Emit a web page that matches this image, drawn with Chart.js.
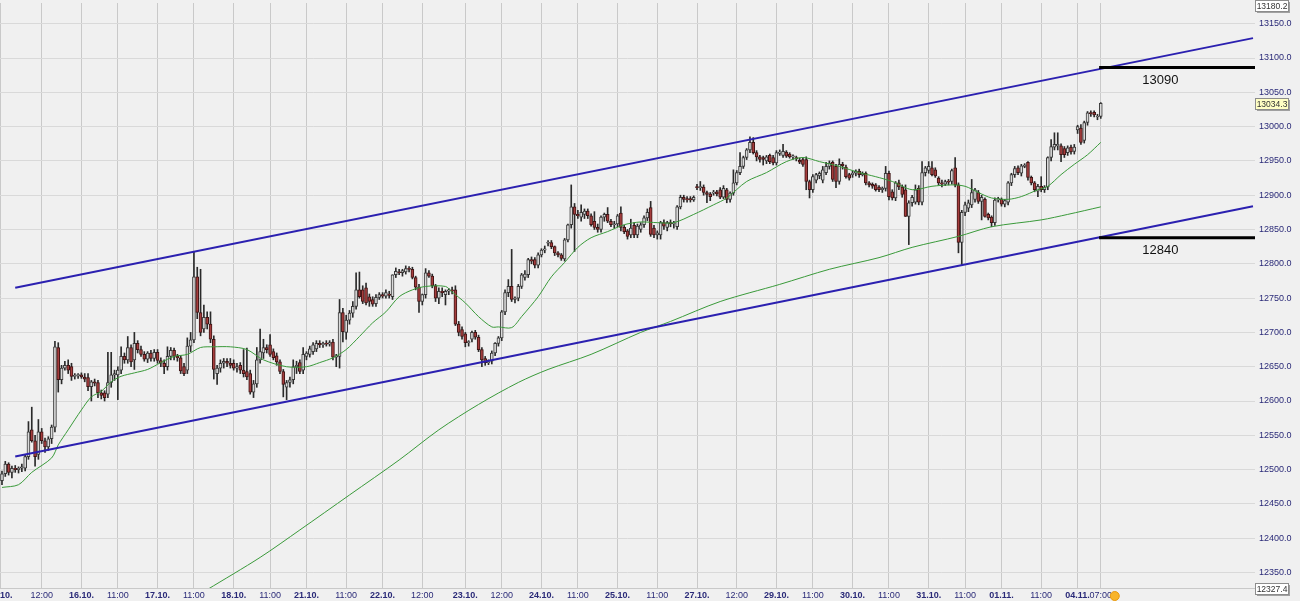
<!DOCTYPE html>
<html lang="en">
<head>
    <meta charset="UTF-8">
    <title>Hourly chart with channel</title>
    <script src="https://cdn.jsdelivr.net/npm/chart.js@4"></script>
    <style>
        html, body { margin: 0; padding: 0; background: #f0f0f0; }
        canvas { display: block; }
    </style>
</head>
<body>

<canvas id="priceChart" width="1300" height="601"></canvas>

<script>
    // hourly candles, 15.10. - 04.11.
    const opens = [
        12484,12494,12508,12496,12502,12500,12502,12502,12519,12558,
        12542,12522,12555,12542,12533,12545,12562,12678,12631,12648,
        12652,12650,12636,12637,12638,12635,12634,12621,12628,12627,
        12612,12612,12610,12627,12638,12638,12645,12665,12660,12678,
        12660,12684,12675,12668,12661,12670,12662,12671,12659,12655,
        12650,12665,12674,12665,12663,12650,12645,12680,12689,12781,
        12729,12705,12722,12712,12690,12640,12648,12655,12658,
        12655,12655,12648,12652,12645,12643,12640,12613,12625,12660,
        12670,12678,12682,12672,12666,12657,12643,12620,12627,12631,
        12650,12656,12645,12665,12668,12672,12676,12684,12682,12684,
        12683,12686,12664,12665,12729,12700,12718,12728,12738,12762,
        12762,12765,12752,12748,12742,12751,12755,12753,12756,12752,
        12784,12788,12787,12788,12793,12792,12780,12766,12745,12755,
        12787,12782,12768,12750,12760,12755,12760,12762,
        12762,12712,12704,12698,12685,12690,12700,12693,12675,12662,
        12656,12658,12670,12684,12692,12730,12758,12767,12748,12750,
        12767,12780,12784,12806,12806,12798,12813,12820,12830,12831,
        12825,12816,12813,12807,12835,12857,12883,12872,12868,12872,
        12877,12870,12862,12853,12850,12868,12872,12862,12857,12858,
        12874,12853,12848,12842,12856,12842,12850,12857,12867,12882,
        12852,12842,12842,12860,12853,12860,12858,
        12854,12883,12897,12895,12895,12893,12912,12911,12912,12904,
        12902,12903,12905,12908,12897,12908,12894,12903,12918,12933,
        12942,12955,12966,12977,12962,12956,12955,12950,12958,12955,
        12947,12961,12958,12963,12960,12956,12955,12951,12952,12952,
        12920,12908,12922,12928,12922,12933,12942,12948,12942,12920,
        12945,12941,12930,12930,12932,12935,12930,12932,12918,12916,
        12915,12912,12908,12910,12932,12905,12896,
        12918,12912,12908,12869,12889,12890,12910,12890,12933,12936,
        12940,12937,12925,12918,12916,12920,12920,12940,12915,12831,
        12875,12881,12886,12894,12904,12891,12894,12872,12868,12860,
        12893,12894,12887,12890,12918,12930,12940,12932,12942,12948,
        12926,12918,12906,12913,12908,12912,12955,12970,12972,12972,
        12968,12962,12970,12964,12995,12998,12980,13006,13020,13021,
        13014,13015
    ];
    const highs = [
        12498,12512,12510,12505,12506,12504,12508,12521,12570,12591,
        12550,12573,12560,12546,12548,12565,12687,12685,12652,12658,
        12660,12655,12640,12640,12641,12640,12640,12630,12632,12630,
        12616,12615,12671,12671,12645,12650,12679,12670,12694,12682,
        12700,12688,12680,12672,12672,12674,12675,12675,12663,12660,
        12679,12678,12677,12668,12666,12655,12692,12700,12818,12795,
        12792,12740,12730,12730,12695,12652,12660,12662,12662,
        12662,12660,12655,12656,12675,12677,12645,12630,12678,12705,
        12690,12682,12697,12676,12670,12660,12646,12630,12635,12660,
        12658,12660,12678,12672,12680,12685,12688,12688,12686,12688,
        12688,12690,12668,12748,12735,12725,12732,12745,12787,12788,
        12768,12772,12756,12752,12755,12758,12758,12762,12760,12784,
        12794,12792,12792,12797,12796,12795,12782,12770,12756,12793,
        12790,12785,12770,12765,12765,12762,12764,12766,
        12768,12716,12708,12700,12688,12702,12703,12696,12678,12665,
        12660,12673,12685,12694,12732,12762,12777,12821,12752,12770,
        12786,12790,12808,12810,12809,12816,12822,12826,12834,12834,
        12826,12818,12815,12837,12858,12915,12888,12878,12886,12880,
        12880,12873,12876,12858,12870,12874,12882,12865,12862,12872,
        12883,12856,12850,12865,12860,12858,12860,12870,12880,12891,
        12856,12848,12862,12864,12862,12864,12862,
        12885,12900,12900,12898,12898,12899,12916,12920,12915,12906,
        12904,12907,12907,12911,12914,12910,12905,12937,12936,12962,
        12957,12968,12985,12984,12965,12958,12957,12958,12960,12958,
        12965,12966,12974,12965,12962,12959,12957,12954,12954,12956,
        12922,12930,12932,12934,12942,12948,12950,12950,12945,12953,
        12948,12944,12932,12935,12937,12938,12934,12934,12920,12918,
        12917,12914,12912,12942,12935,12908,12920,
        12922,12915,12915,12892,12900,12915,12914,12949,12942,12949,
        12949,12940,12927,12922,12922,12923,12938,12955,12918,12878,
        12890,12893,12923,12910,12907,12900,12896,12874,12870,12896,
        12897,12896,12894,12920,12932,12942,12943,12945,12946,12949,
        12928,12920,12916,12927,12914,12956,12981,12991,12991,12975,
        12971,12972,12973,12974,13002,13003,13008,13022,13023,13023,
        13018,13035
    ];
    const lows = [
        12478,12490,12492,12488,12496,12495,12497,12498,12515,12540,
        12505,12515,12538,12525,12528,12538,12555,12613,12625,12645,
        12640,12630,12632,12633,12633,12628,12615,12600,12622,12605,
        12603,12600,12605,12620,12630,12602,12640,12655,12655,12650,
        12646,12670,12665,12658,12656,12658,12658,12655,12650,12640,
        12645,12660,12660,12658,12640,12637,12640,12672,12685,12720,
        12695,12700,12705,12685,12632,12624,12642,12648,12650,
        12648,12645,12642,12640,12635,12631,12610,12605,12620,12655,
        12662,12670,12665,12660,12652,12640,12606,12602,12620,12625,
        12640,12640,12640,12660,12664,12668,12672,12678,12678,12680,
        12680,12660,12650,12648,12686,12690,12712,12722,12734,12750,
        12742,12740,12738,12738,12738,12748,12750,12750,12750,12748,
        12780,12784,12782,12785,12788,12778,12762,12729,12740,12750,
        12780,12765,12745,12742,12752,12740,12755,12756,
        12710,12695,12690,12679,12680,12686,12690,12672,12650,12652,
        12653,12654,12666,12680,12688,12726,12752,12745,12743,12746,
        12764,12776,12780,12800,12794,12794,12810,12816,12826,12822,
        12812,12810,12805,12804,12832,12852,12818,12866,12862,12866,
        12866,12855,12850,12846,12846,12862,12860,12854,12852,12854,
        12848,12844,12836,12838,12838,12838,12846,12853,12863,12840,
        12838,12836,12836,12850,12848,12854,12852,
        12850,12880,12890,12890,12890,12891,12908,12907,12900,12889,
        12892,12900,12899,12895,12895,12889,12890,12900,12915,12930,
        12939,12952,12962,12960,12950,12948,12944,12946,12946,12944,
        12944,12958,12955,12955,12954,12952,12950,12946,12942,12908,
        12896,12904,12918,12924,12918,12930,12938,12920,12911,12916,
        12938,12925,12922,12926,12928,12926,12928,12915,12912,12910,
        12906,12905,12904,12906,12893,12893,12892,
        12908,12897,12869,12828,12884,12887,12886,12886,12928,12932,
        12928,12926,12915,12912,12914,12915,12916,12912,12816,12799,
        12870,12876,12882,12890,12888,12864,12868,12864,12854,12856,
        12890,12884,12883,12886,12914,12926,12930,12928,12940,12922,
        12915,12905,12898,12905,12904,12908,12950,12966,12966,12949,
        12955,12958,12960,12960,12990,12974,12976,13002,13015,13014,
        13010,13012
    ];
    const closes = [
        12494,12508,12496,12502,12500,12502,12504,12519,12555,12542,
        12519,12555,12542,12533,12545,12562,12679,12631,12648,12652,
        12645,12636,12637,12638,12635,12632,12621,12628,12626,12612,
        12608,12605,12627,12638,12640,12645,12665,12660,12678,12657,
        12684,12675,12668,12661,12670,12662,12671,12659,12655,12650,
        12665,12674,12665,12663,12644,12640,12680,12689,12781,12729,
        12700,12722,12712,12690,12646,12648,12655,12658,12655,
        12652,12648,12650,12645,12640,12635,12613,12625,12660,12672,
        12678,12675,12668,12663,12657,12643,12624,12627,12631,12650,
        12652,12643,12668,12670,12676,12682,12684,12682,12684,12683,
        12685,12664,12666,12729,12701,12718,12728,12738,12762,12752,
        12745,12743,12745,12741,12751,12755,12753,12758,12754,12784,
        12789,12787,12790,12793,12792,12780,12766,12745,12755,12787,
        12782,12768,12750,12760,12758,12760,12762,12760,
        12712,12700,12694,12685,12686,12700,12693,12675,12660,12656,
        12657,12670,12684,12692,12730,12758,12767,12748,12750,12767,
        12784,12785,12806,12804,12798,12813,12820,12822,12831,12825,
        12816,12813,12808,12835,12857,12883,12872,12870,12875,12877,
        12870,12857,12853,12850,12868,12872,12862,12857,12858,12870,
        12853,12847,12840,12852,12842,12855,12857,12867,12875,12843,
        12842,12845,12860,12855,12860,12858,12859,
        12883,12897,12894,12893,12893,12897,12911,12912,12904,12901,
        12898,12904,12902,12897,12910,12894,12903,12918,12933,12942,
        12955,12966,12977,12962,12956,12952,12952,12956,12949,12947,
        12962,12963,12964,12957,12956,12957,12953,12948,12945,12920,
        12908,12927,12930,12932,12937,12942,12947,12923,12920,12945,
        12943,12927,12925,12932,12935,12930,12932,12918,12915,12913,
        12908,12908,12910,12932,12898,12896,12918,
        12912,12901,12869,12889,12897,12908,12890,12933,12940,12942,
        12930,12928,12918,12916,12920,12919,12936,12915,12831,12875,
        12886,12889,12904,12908,12891,12897,12869,12867,12860,12893,
        12895,12887,12892,12918,12930,12939,12933,12943,12944,12926,
        12918,12908,12913,12908,12912,12955,12971,12974,12974,12959,
        12959,12969,12963,12970,13000,12977,13006,13020,13019,13017,
        13015,13034
    ];

    // short moving average (bar index, value)
    const maShortIdx = [0,5,9,15,17,20,24,27,30,33,36,40,44,48,52,56,60,64,69,74,79,86,92,96,100,
        104,108,112,116,120,124,128,134,136,140,144,148,150,154,157,162,166,170,174,178,183,188,193,198,203,
        209,215,219,225,231,237,242,247,253,259,264,269,275,281,287,291,295,299,304,308,313,316,320,324,328,332];
    const maShortVal = [12474,12478,12496,12517,12536,12558,12587,12606,12614,12628,12636,12641,12646,12656,12665,12668,12678,12679,12679,12675,12660,12650,12650,12656,12663,
        12675,12694,12714,12730,12752,12762,12767,12767,12759,12743,12723,12708,12708,12707,12723,12752,12781,12802,12824,12838,12847,12857,12861,12860,12860,
        12872,12886,12896,12920,12933,12949,12955,12949,12942,12933,12927,12920,12908,12913,12915,12913,12904,12896,12894,12898,12908,12913,12930,12945,12959,12977];

    // long moving average
    const maLongIdx = [62,78,90,105,120,132,144,156,165,178,193,202,217,235,250,265,275,289,299,314,322,332];
    const maLongVal = [12325,12372,12412,12463,12514,12558,12595,12627,12646,12668,12700,12716,12745,12770,12792,12809,12824,12840,12854,12864,12872,12883];

    // trend channel
    const channelIdx = [4, 378];
    const channelUpper = [12765, 13129];
    const channelLower = [12519, 12884];

    // horizontal levels (drawn line, label text)
    const levels = [13086, 12838];
    const levelLabels = ['13090', '12840'];
    const levelFrom = 331.5;

    // axes
    const xMin = -0.6, xMax = 378.6;
    const yMin = 12327.4, yMax = 13180.2;
    const yTicks = [12350,12400,12450,12500,12550,12600,12650,12700,12750,12800,12850,12900,12950,13000,13050,13100,13150];
    const xTickPos = [-0.6,12,24,35,47,58,70,81,92,104,115,127,140,151,163,174,186,198,210,222,234,245,257,268,280,291,302,314,325,332];
    const xTickLabels = ['15.10.','12:00','16.10.','11:00','17.10.','11:00','18.10.','11:00','21.10.','11:00','22.10.','12:00','23.10.','12:00',
        '24.10.','11:00','25.10.','11:00','27.10.','12:00','29.10.','11:00','30.10.','11:00','31.10.','11:00','01.11.','11:00','04.11.','07:00'];
    const lastPrice = 13034.3;

    const FONT = '"Liberation Sans", Arial, sans-serif';
    const LABEL_COLOR = '#2a2a78';

    const bodies = closes.map((c, i) => ({ x: i, y: [Math.min(opens[i], c), Math.max(opens[i], c)] }));
    const wicks = closes.map((c, i) => ({ x: i, y: [Math.min(lows[i], opens[i], c), Math.max(highs[i], opens[i], c)] }));
    const bodyFill = closes.map((c, i) => c >= opens[i] ? '#dadada' : '#a53d3d');
    const bodyEdge = closes.map((c, i) => c >= opens[i] ? '#3a3a3a' : '#3e1414');

    const pts = (xs, ys) => xs.map((x, i) => ({ x: x, y: ys[i] }));

    const overlay = {
        id: 'overlay',
        beforeDraw(chart) {
            const c = chart.ctx;
            c.save();
            c.fillStyle = '#f0f0f0';
            c.fillRect(0, 0, chart.width, chart.height);
            c.restore();
        },
        afterDraw(chart) {
            const c = chart.ctx;
            const xs = chart.scales.x, ys = chart.scales.y;
            const right = chart.chartArea.right;
            c.save();

            // level labels under the black lines
            c.font = '13px ' + FONT;
            c.fillStyle = '#111';
            c.textAlign = 'center';
            c.textBaseline = 'middle';
            levels.forEach((v, i) => {
                c.fillText(levelLabels[i], xs.getPixelForValue(350), ys.getPixelForValue(v) + 13);
            });

            // value boxes on the price axis
            const box = (value, fill) => {
                let y = ys.getPixelForValue(value);
                y = Math.max(5.5, Math.min(chart.height - 8, y));
                const bx = right + 0.5, bw = 33, bh = 11, by = Math.round(y - bh / 2) + 0.5;
                c.fillStyle = '#a0a0a0';
                c.fillRect(bx + 1.5, by + 1.5, bw, bh);
                c.fillStyle = fill;
                c.fillRect(bx, by, bw, bh);
                c.strokeStyle = '#8c8c8c';
                c.lineWidth = 1;
                c.strokeRect(bx, by, bw, bh);
                c.font = '8.5px ' + FONT;
                c.fillStyle = '#333';
                c.textAlign = 'center';
                c.textBaseline = 'middle';
                c.fillText(value.toFixed(1), bx + bw / 2, by + bh / 2 + 0.5);
            };
            box(yMax, '#ffffff');
            box(lastPrice, '#ffffc4');
            box(yMin, '#ffffff');

            // live marker after the last time label
            const dx = xs.getPixelForValue(xTickPos[xTickPos.length - 1]) + 14;
            c.beginPath();
            c.arc(dx, chart.height - 5, 4.5, 0, Math.PI * 2);
            c.fillStyle = '#f8b42a';
            c.fill();
            c.strokeStyle = '#e89a10';
            c.stroke();

            c.restore();
        }
    };

    const ctx = document.getElementById('priceChart').getContext('2d');
    const chart = new Chart(ctx, {
        type: 'bar',
        data: {
            datasets: [{
                type: 'bar',
                data: wicks,
                backgroundColor: '#2a2a2a',
                barThickness: 1,
                grouped: false,
                order: 4
            }, {
                type: 'bar',
                data: bodies,
                backgroundColor: bodyFill,
                borderColor: bodyEdge,
                borderWidth: 1,
                borderSkipped: false,
                barThickness: 3,
                minBarLength: 1,
                grouped: false,
                order: 3
            }, {
                type: 'line',
                data: pts(maShortIdx, maShortVal),
                borderColor: '#3a9a3a',
                borderWidth: 1,
                pointRadius: 0,
                tension: 0.3,
                order: 2
            }, {
                type: 'line',
                data: pts(maLongIdx, maLongVal),
                borderColor: '#3a9a3a',
                borderWidth: 1,
                pointRadius: 0,
                tension: 0.3,
                order: 2
            }, {
                type: 'line',
                data: pts(channelIdx, channelUpper),
                borderColor: '#2b20b0',
                borderWidth: 2,
                pointRadius: 0,
                order: 1
            }, {
                type: 'line',
                data: pts(channelIdx, channelLower),
                borderColor: '#2b20b0',
                borderWidth: 2,
                pointRadius: 0,
                order: 1
            }, {
                type: 'line',
                data: [{ x: levelFrom, y: levels[0] }, { x: xMax, y: levels[0] }],
                borderColor: '#000',
                borderWidth: 3,
                pointRadius: 0,
                order: 0
            }, {
                type: 'line',
                data: [{ x: levelFrom, y: levels[1] }, { x: xMax, y: levels[1] }],
                borderColor: '#000',
                borderWidth: 3,
                pointRadius: 0,
                order: 0
            }]
        },
        options: {
            responsive: false,
            animation: false,
            devicePixelRatio: 1,
            layout: { padding: { top: 3, left: 0, right: 0, bottom: 0 } },
            plugins: {
                legend: { display: false },
                tooltip: { enabled: false }
            },
            scales: {
                x: {
                    type: 'linear',
                    min: xMin,
                    max: xMax,
                    offset: false,
                    afterBuildTicks: (axis) => { axis.ticks = xTickPos.map(v => ({ value: v })); },
                    afterFit: (axis) => { axis.height = 13; axis.paddingLeft = 0; axis.paddingRight = 0; },
                    grid: { color: '#c9c9c9', drawTicks: false, offset: false },
                    border: { display: true, color: '#c9c9c9' },
                    ticks: {
                        autoSkip: false,
                        maxRotation: 0,
                        minRotation: 0,
                        padding: 2,
                        color: LABEL_COLOR,
                        font: (c) => ({
                            family: FONT,
                            size: 9,
                            weight: (xTickLabels[c.index] || '').indexOf('.') > 0 ? 'bold' : 'normal'
                        }),
                        callback: (value, i) => xTickLabels[i]
                    }
                },
                y: {
                    position: 'right',
                    min: yMin,
                    max: yMax,
                    afterBuildTicks: (axis) => { axis.ticks = yTicks.map(v => ({ value: v })); },
                    afterFit: (axis) => { axis.width = 45; axis.paddingTop = 0; axis.paddingBottom = 0; },
                    grid: { color: '#d9d9d9', drawTicks: false },
                    border: { display: false },
                    ticks: {
                        padding: 4,
                        color: LABEL_COLOR,
                        font: { family: FONT, size: 9 },
                        callback: (v) => Number(v).toFixed(1)
                    }
                }
            }
        },
        plugins: [overlay]
    });
</script>

</body>
</html>
